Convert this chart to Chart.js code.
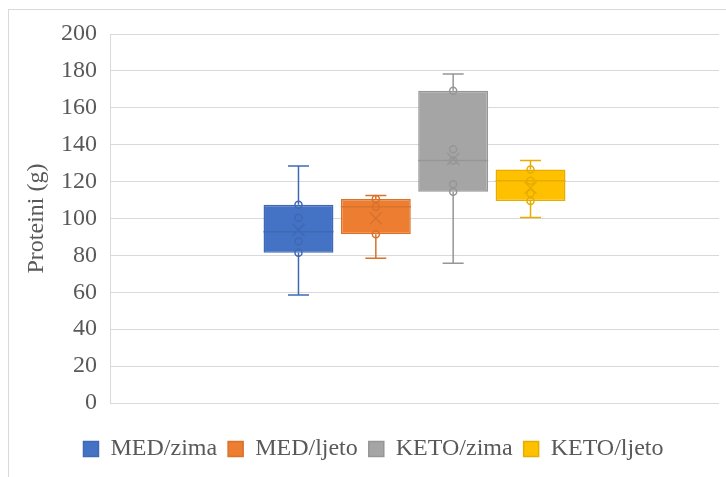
<!DOCTYPE html>
<html>
<head>
<meta charset="utf-8">
<script src="https://cdn.jsdelivr.net/npm/chart.js@4.4.1/dist/chart.umd.min.js"></script>
<style>
  html, body { margin: 0; padding: 0; background: #fff; overflow: hidden; }
  #wrap { position: relative; width: 726px; height: 477px; }
  #frame { position: absolute; left: 8px; top: 9px; width: 800px; height: 600px;
           border-left: 1px solid #d9d9d9; border-top: 1px solid #d9d9d9; }
  #chart { position: absolute; left: 0; top: 0; }
</style>
</head>
<body>
<div id="wrap">
  <div id="frame"></div>
  <canvas id="chart" width="726" height="477"></canvas>
</div>
<script>
// 데이터
const categories = ['']
const seriesNames = ['MED/zima', 'MED/ljeto', 'KETO/zima', 'KETO/ljeto']
const minVals    = [58.5, 78.4, 75.7, 100.6]
const q1Vals     = [81.5, 91.4, 114.5, 109.5]
const medianVals = [92.8, 106.4, 131.5, 120.5]
const q3Vals     = [107.5, 110.6, 169.3, 126.6]
const maxVals    = [128.5, 112.4, 178.3, 131.5]
const meanVals   = [93.8, 100.1, 132.2, 116.7]
const pointVals  = [
  [81.5, 87.6, 100.4, 107.5],
  [91.4, 106.4, 110.6],
  [114.5, 118.5, 131.5, 137.5, 169.3],
  [109.5, 113.6, 120.5, 126.6],
]
const yTicks = [0, 20, 40, 60, 80, 100, 120, 140, 160, 180, 200]

const fillColors   = ['#4472C4', '#ED7D31', '#A5A5A5', '#FFC000']
const strokeColors = ['#3f69b5', '#d8722c', '#969696', '#e6ad00']

const FONT = "'Liberation Serif', 'Times New Roman', serif"
const TEXT = '#595959'

// 수염, 중앙값, 평균, 점 그리기
const boxExtras = {
  id: 'boxExtras',
  afterDatasetsDraw(chart) {
    const ctx = chart.ctx
    const y = chart.scales.y
    chart.data.datasets.forEach((ds, i) => {
      const bar = chart.getDatasetMeta(i).data[0]
      if (!bar) return
      const x = bar.x
      const half = bar.width / 2
      const cap = 10.5
      ctx.save()
      ctx.strokeStyle = strokeColors[i]
      ctx.lineWidth = 1.5
      ctx.beginPath()
      // whiskers
      ctx.moveTo(x, y.getPixelForValue(q3Vals[i]))
      ctx.lineTo(x, y.getPixelForValue(maxVals[i]))
      ctx.moveTo(x, y.getPixelForValue(q1Vals[i]))
      ctx.lineTo(x, y.getPixelForValue(minVals[i]))
      const yMax = y.getPixelForValue(maxVals[i])
      const yMin = y.getPixelForValue(minVals[i])
      ctx.moveTo(x - cap, yMax); ctx.lineTo(x + cap, yMax)
      ctx.moveTo(x - cap, yMin); ctx.lineTo(x + cap, yMin)
      // median
      const yMed = y.getPixelForValue(medianVals[i])
      ctx.moveTo(x - half, yMed); ctx.lineTo(x + half, yMed)
      ctx.stroke()
      // mean X
      const yMean = y.getPixelForValue(meanVals[i])
      const m = 6
      ctx.beginPath()
      ctx.moveTo(x - m, yMean - m); ctx.lineTo(x + m, yMean + m)
      ctx.moveTo(x - m, yMean + m); ctx.lineTo(x + m, yMean - m)
      ctx.stroke()
      // points
      pointVals[i].forEach(v => {
        ctx.beginPath()
        ctx.arc(x, y.getPixelForValue(v), 3.5, 0, Math.PI * 2)
        ctx.stroke()
      })
      ctx.restore()
    })
  }
}

new Chart(document.getElementById('chart'), {
  type: 'bar',
  data: {
    labels: categories,
    datasets: seriesNames.map((name, i) => ({
      label: name,
      data: [[q1Vals[i], q3Vals[i]]],
      backgroundColor: fillColors[i],
      borderColor: strokeColors[i],
      borderWidth: 1.5,
      borderSkipped: false,
      categoryPercentage: 0.508,
      barPercentage: 0.904,
    }))
  },
  options: {
    responsive: false,
    devicePixelRatio: 1,
    animation: false,
    layout: { padding: { left: 28, right: 7, top: 34, bottom: 6 } },
    plugins: {
      tooltip: { enabled: false },
      legend: {
        position: 'bottom',
        labels: {
          color: TEXT,
          font: { family: FONT, size: 24 },
          boxWidth: 15,
          boxHeight: 15,
          padding: 11,
        }
      }
    },
    scales: {
      x: {
        grid: { display: false },
        border: { display: false },
        ticks: { display: false },
        afterFit: s => { s.height = 23 },
      },
      y: {
        min: 0,
        max: 200,
        afterBuildTicks: s => { s.ticks = yTicks.map(v => ({ value: v })) },
        afterFit: s => { s.width = 82 },
        grid: { color: '#d9d9d9', lineWidth: 1, drawTicks: false },
        border: { color: '#d9d9d9' },
        ticks: { color: TEXT, font: { family: FONT, size: 24 }, padding: 13 },
        title: {
          display: true,
          text: 'Proteini (g)',
          color: TEXT,
          font: { family: FONT, size: 24 },
          padding: { top: -6, bottom: 0 },
        }
      }
    }
  },
  plugins: [boxExtras]
})
</script>
</body>
</html>
